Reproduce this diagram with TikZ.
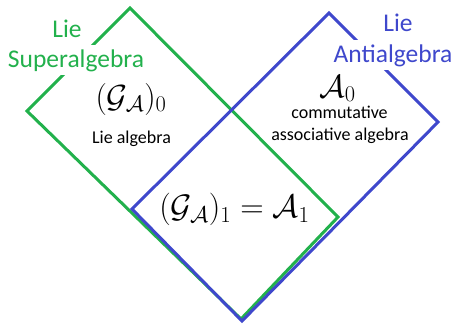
\RequirePackage{fix-cm}
\documentclass[tikz,border=0pt]{standalone}
\usepackage{fontspec}
\newfontfamily\carlito{Carlito}
\definecolor{pgreen}{RGB}{34,177,76}
\definecolor{pblue}{RGB}{63,72,204}
\tikzset{
  edge/.style={line width=3pt, line join=miter},
  biglabel/.style={font=\carlito\fontsize{25.5}{27}\selectfont, anchor=base, fill=white, inner xsep=2pt, inner ysep=4pt},
  small/.style={font=\carlito\fontsize{18}{20}\selectfont, anchor=base, inner sep=0pt},
  mathlbl/.style={anchor=base, inner sep=0pt},
}
\begin{document}
\begin{tikzpicture}[x=1pt, y=-1pt]
\useasboundingbox (0,0) rectangle (453,325);
% green rectangle (Lie superalgebra)
\coordinate (gT) at (130,8);
\coordinate (gR) at (338,217);
\coordinate (gB) at (241,319);
\coordinate (gL) at (27,111);
% blue rectangle (Lie antialgebra)
\coordinate (bT) at (329,13);
\coordinate (bR) at (438,122);
\coordinate (bB) at (242,321);
\coordinate (bL) at (132,209);
\draw[edge, pgreen] (gT) -- (gR) -- (gB) -- (gL) -- cycle;
\draw[edge, pblue] (bT) -- (bR) -- (bB) -- (bL) -- cycle;
% labels
\node[biglabel, text=pgreen] (lieS) at (67,37) {Lie};
\node[biglabel, text=pgreen] (super) at (76,67) {Superalgebra};
\node[biglabel, text=pblue] (lieA) at (398,31) {Lie};
\node[biglabel, text=pblue] (anti) at (393,62) {Antialgebra};
% inner texts
\node[mathlbl, font=\fontsize{32}{34}\selectfont] (g0) at (131,107) {$(\mathcal{G}_{\mathcal{A}})_0$};
\node[small] (liealg) at (131.5,143) {Lie algebra};
\node[mathlbl, font=\fontsize{32}{34}\selectfont] (a0) at (337.5,97) {$\mathcal{A}_0$};
\node[small] (comm) at (339.5,118) {commutative};
\node[small] (assoc) at (340,140) {associative algebra};
\node[mathlbl, font=\fontsize{32.5}{35}\selectfont] (g1) at (234.5,217.5) {$(\mathcal{G}_{\mathcal{A}})_1 = \mathcal{A}_1$};
\end{tikzpicture}
\end{document}
